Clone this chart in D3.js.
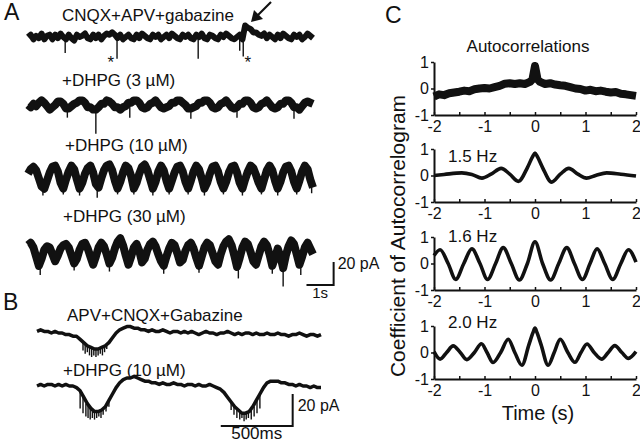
<!DOCTYPE html>
<html>
<head>
<meta charset="utf-8">
<script src="https://cdn.jsdelivr.net/npm/d3@7"></script>
<style>
body { margin: 0; background: #fff; }
svg { display: block; font-family: "Liberation Sans", Arial, sans-serif; }
</style>
</head>
<body>
<div id="chart"></div>
<script>
// ---- panel A: whole-cell current, pA, sampled every 0.1 s ----
const traceA1 = [
  0,2,-2,1,-1,3,-2,1,2,-2, 2,-1,3,0,-2,2,-1,-3,2,0, 1,3,-1,-2,2,-1,2,-2,1,3,
  2,4,2,-1,2,-2,0,2,-1,-2, 2,-1,3,1,-1,-2,2,0,2,-2, 0,2,-1,3,1,-1,-2,2,0,2,
  -1,-2,2,0,3,-1,-2,2,1,-1, -2,2,0,3,1,-1,-2,0,2,-2, 10,8,7,4,4,2,1,3,-1,2,
  0,-2,2,-1,3,1,-1,-2,2,0, 2,-2,0,3,1,-1
];
const traceA2 = [
  0,-2,1,-1,2,4,2,-1,-4,-2, 0,3,3,1,-3,-3,-1,1,2,4, 4,2,-2,-2,-4,-4,-2,1,1,4,
  3,1,-2,-2,-4,-2,-1,2,2,4, 4,2,-2,-3,-2,1,2,4,1,-2, -3,-2,-1,2,2,4,4,2,0,-3,
  -3,-2,-1,2,2,4,4,2,-2,-3, -2,1,2,4,1,-2,-3,-2,1,1, 4,4,2,-2,-3,-2,1,2,4,1,
  -2,-3,-2,1,1,4,4,2,-2,-2, -4,-1,2,3,2,1
];
const traceA3 = [
  2,6,8,5,-2,-9,-11,-4,3,8, 9,4,-6,-11,-3,4,9,6,-3,-11, -6,2,7,9,3,-7,-10,-2,5,9,
  10,5,-4,-11,-5,3,9,7,0,-11, -6,2,8,10,5,-3,-11,-5,4,9, 5,-4,-11,-4,3,8,9,4,-5,-11,
  -4,4,9,6,-2,-11,-6,2,8,9, 4,-5,-11,-5,3,8,9,3,-6,-11, -3,4,9,7,1,-6,-11,-3,5,9,
  5,-4,-11,-5,3,8,9,4,-5,-11, -4,4,9,6,-3,-10
];
const traceA4 = [
  6,8,4,-4,-12,-6,2,5,4,-2, -8,-3,3,6,7,4,-3,-10,-6,2, 7,8,3,-4,-11,-4,4,8,5,-2,
  -10,-5,3,9,12,6,-3,-11,-4,4, 7,1,-9,-6,2,7,9,5,-2,-8, -12,-4,3,8,6,-1,-9,-7,1,6,
  8,3,-5,-12,-4,4,8,6,-1,-8, -11,-2,5,9,11,6,-3,-13,-5,4, 9,7,0,-8,-11,-3,5,9,6,-2,
  -12,-5,3,-4,-14,-3,5,10,7,-2, -11,-4,4,8,3,-2
];
// fast events: [time s, lowest point pA]
const spikesA1 = [[1.37,-14],[3.28,-19],[6.27,-19],[7.8,-12],[7.93,-17]];
const spikesA2 = [[2.5,-25],[1.45,-11],[3.75,-11],[6.0,-12],[7.7,-11],[9.8,-12]];
const spikesA3 = [[0.55,-17],[1.3,-16],[1.9,-17],[2.55,-19],[3.3,-16],[3.9,-16],[4.6,-17],[5.2,-16],
  [5.9,-16],[6.5,-17],[7.2,-16],[7.9,-17],[8.6,-16],[9.2,-17],[9.9,-16],[10.45,-15]];
const spikesA4 = [[0.45,-20],[1.7,-16],[3.0,-17],[5.0,-19],[6.3,-18],[7.75,-23],[9.0,-19],[9.4,-30],[10.05,-20]];
const labelsA = ["CNQX+APV+gabazine", "+DHPG (3 \u00b5M)", "+DHPG (10 \u00b5M)", "+DHPG (30 \u00b5M)"];

// ---- panel B: pA, sampled every 0.025 s ----
const traceB1 = [
  1,2,1,1,0,1,0,0,-1,-1, -2,-2,-4,-6,-8,-9,-10,-10,-9,-8, -6,-3,0,2,3,4,4,3,3,2,
  2,1,2,1,1,2,1,0,1,1, 0,1,0,1,0,-1,0,1,0,0, -1,0,0,1,0,-1,0,-1,0,0,
  -1,0,-1,-1,0,-1,-1,0,-1,-1, -2,-1,-1,0,-1,-2,-1,-1,-2,-1
];
const traceB2 = [
  0,1,0,1,1,0,1,0,1,0, 0,-1,-3,-7,-11,-14,-16,-16,-15,-13, -9,-5,-1,2,4,5,5,6,5,4,
  3,3,2,2,1,2,1,1,2,1, 1,0,1,1,0,1,0,0,1,0, -1,-2,-4,-7,-10,-13,-15,-17,-17,-16,
  -13,-9,-5,-1,2,3,3,3,2,2, 1,1,0,1,0,0,-1,0,-1,-1
];
const spikesB1 = [[0.32,-11],[0.335,-13],[0.35,-12],[0.365,-14],[0.38,-15],[0.395,-14],[0.41,-15],
  [0.425,-14],[0.44,-13],[0.455,-14],[0.47,-12],[0.485,-10]];
const spikesB2 = [[0.3,-14],[0.32,-17],[0.34,-19],[0.355,-20],[0.37,-21],[0.385,-20],[0.4,-21],[0.415,-20],
  [0.43,-19],[0.445,-20],[0.46,-18],[0.48,-16],[0.5,-13],
  [1.35,-15],[1.37,-18],[1.39,-20],[1.41,-21],[1.425,-20],[1.44,-22],[1.455,-21],[1.47,-20],[1.49,-21],
  [1.51,-19],[1.53,-17],[1.55,-14]];
const labelsB = ["APV+CNQX+Gabazine", "+DHPG (10 \u00b5M)"];

// ---- panel C: autocorrelograms ----
const acAllT = [-2,-1.9,-1.8,-1.7,-1.6,-1.5,-1.4,-1.3,-1.2,-1.1,-1,-0.9,-0.8,-0.7,-0.6,-0.5,-0.4,-0.3,-0.2,-0.1,-0.05,
  0,0.05,0.1,0.2,0.3,0.4,0.5,0.6,0.7,0.8,0.9,1,1.1,1.2,1.3,1.4,1.5,1.6,1.7,1.8,1.9,2];
const acAllV = [-0.3,-0.22,-0.25,-0.18,-0.15,-0.12,-0.08,-0.1,-0.03,0,0.02,0,0.05,0.1,0.18,0.2,0.17,0.2,0.17,0.25,0.35,
  0.85,0.35,0.25,0.17,0.2,0.15,0.12,0.1,0.05,0,-0.02,-0.08,-0.05,-0.1,-0.08,-0.12,-0.15,-0.13,-0.2,-0.22,-0.25,-0.28];
const ac15T = [-2,-1.8,-1.45,-1.25,-1.05,-0.87,-0.67,-0.5,-0.33,-0.15,-0.05,0,0.05,0.15,0.33,0.5,0.67,0.85,1.02,1.2,1.42,1.7,2];
const ac15V = [0,0.04,0.1,0.04,-0.1,0.05,0.27,0.05,-0.22,0.3,0.7,0.85,0.7,0.3,-0.25,0.05,0.27,0.05,-0.1,0,0.1,0.05,-0.02];
const ac16T = [-2,-1.88,-1.72,-1.57,-1.41,-1.25,-1.09,-0.94,-0.78,-0.63,-0.47,-0.31,-0.15,0,0.15,0.31,0.47,0.63,0.78,0.94,
  1.09,1.23,1.38,1.54,1.7,1.85,2];
const ac16V = [0.3,0.52,0,-0.6,0,0.55,0,-0.6,0,0.6,0,-0.62,0,0.82,0,-0.62,0,0.6,0,-0.6,0,0.55,0,-0.6,0,0.52,0.05];
const ac20T = [-2,-1.88,-1.75,-1.62,-1.48,-1.35,-1.2,-1.06,-0.95,-0.83,-0.68,-0.53,-0.4,-0.26,-0.12,-0.04,0,0.04,0.12,
  0.26,0.38,0.5,0.65,0.79,0.91,1.03,1.17,1.32,1.45,1.58,1.72,1.85,2];
const ac20V = [0.03,-0.25,0,0.25,0,-0.27,0,0.33,0,-0.38,0,0.5,0,-0.48,0.3,0.75,0.92,0.75,0.3,-0.48,0,0.5,0,-0.37,0,0.32,
  0,-0.25,0,0.26,0,-0.22,0.03];
const acLabels = ["", "1.5 Hz", "1.6 Hz", "2.0 Hz"];
const lagTicks = [-2, -1.5, -1, -0.5, 0, 0.5, 1, 1.5, 2];
const coefTicks = [-1, 0, 1];

const INK = "#111";
const width = 640;
const height = 442;

const svg = d3.select("#chart")
    .append("svg")
    .attr("width", width)
    .attr("height", height);

function drawTrace(g, values, dt, x, y, w) {
    const line = d3.line()
        .x((d, i) => x(i * dt))
        .y(d => y(d));
    g.append("path")
        .datum(values)
        .attr("d", line)
        .attr("fill", "none")
        .attr("stroke", INK)
        .attr("stroke-width", w)
        .attr("stroke-linejoin", "round");
}

function drawSpikes(g, spikes, values, dt, x, y) {
    g.selectAll("line.spike")
        .data(spikes)
        .enter().append("line")
        .attr("class", "spike")
        .attr("x1", d => x(d[0]))
        .attr("x2", d => x(d[0]))
        .attr("y1", d => y(values[Math.round(d[0] / dt)]))
        .attr("y2", d => y(d[1]))
        .attr("stroke", INK)
        .attr("stroke-width", 1.4);
}

function addText(x, y, txt, size, anchor) {
    return svg.append("text")
        .attr("x", x)
        .attr("y", y)
        .attr("fill", INK)
        .style("font-size", size + "px")
        .attr("text-anchor", anchor || "start")
        .text(txt);
}

// panel letters
addText(4, 20, "A", 23);
addText(3, 310, "B", 23);
addText(385, 23, "C", 23);

// ---- panel A ----
const xA = d3.scaleLinear().domain([0, 10.5]).range([28, 313]);
const pxPerPA_A = 1.15;
const rowsA = [
    { values: traceA1, spikes: spikesA1, mid: 37, w: 6, lx: 62, ly: 21 },
    { values: traceA2, spikes: spikesA2, mid: 105, w: 8, lx: 62, ly: 86 },
    { values: traceA3, spikes: spikesA3, mid: 176, w: 8, lx: 65, ly: 151 },
    { values: traceA4, spikes: spikesA4, mid: 252, w: 8, lx: 63, ly: 222 }
];
rowsA.forEach((r, i) => {
    const y = d3.scaleLinear().domain([-1, 1]).range([r.mid + pxPerPA_A, r.mid - pxPerPA_A]);
    const g = svg.append("g").attr("class", "traceA");
    drawTrace(g, r.values, 0.1, xA, y, r.w);
    drawSpikes(g, r.spikes, r.values, 0.1, xA, y);
    addText(r.lx, r.ly, labelsA[i], 17);
});

// asterisks + arrow on the first trace
addText(xA(3.05), 68, "*", 17, "middle");
addText(xA(8.1), 68, "*", 17, "middle");
svg.append("line")
    .attr("x1", 271).attr("y1", 2)
    .attr("x2", 258).attr("y2", 15)
    .attr("stroke", INK).attr("stroke-width", 2.2);
svg.append("path")
    .attr("d", "M251,22 L254,10 L263,19 Z")
    .attr("fill", INK);

// scale bar A: 1 s, 20 pA
const yBarA = d3.scaleLinear().domain([0, 20]).range([285, 285 - 20 * pxPerPA_A]);
svg.append("path")
    .attr("d", `M${xA(10.26)},${yBarA(0)} H${xA(11.26)} V${yBarA(20)}`)
    .attr("fill", "none").attr("stroke", INK).attr("stroke-width", 2);
addText(xA(10.76), 298, "1s", 15, "middle");
addText(xA(11.26) + 4, 269, "20 pA", 16);

// ---- panel B ----
const xB = d3.scaleLinear().domain([0, 1.975]).range([37, 321]);
const pxPerPA_B = 1.6;
const rowsB = [
    { values: traceB1, spikes: spikesB1, mid: 333, lx: 67, ly: 321 },
    { values: traceB2, spikes: spikesB2, mid: 386, lx: 63, ly: 376 }
];
rowsB.forEach((r, i) => {
    const y = d3.scaleLinear().domain([-1, 1]).range([r.mid + pxPerPA_B, r.mid - pxPerPA_B]);
    const g = svg.append("g").attr("class", "traceB");
    drawTrace(g, r.values, 0.025, xB, y, 3.5);
    drawSpikes(g, r.spikes, r.values, 0.025, xB, y);
    addText(r.lx, r.ly, labelsB[i], 17);
});
const yBarB = d3.scaleLinear().domain([0, 20]).range([426, 426 - 20 * pxPerPA_B]);
svg.append("path")
    .attr("d", `M${xB(1.278)},${yBarB(0)} H${xB(1.778)} V${yBarB(20)}`)
    .attr("fill", "none").attr("stroke", INK).attr("stroke-width", 2);
addText(xB(1.528), 439, "500ms", 17, "middle");
addText(xB(1.778) + 5, 411, "20 pA", 16);

// ---- panel C ----
const xC = d3.scaleLinear().domain([-2, 2]).range([434, 636]);
const plotsC = [
    { t: acAllT, v: acAllV, top: 62, w: 8, curve: d3.curveLinear, ly: 0 },
    { t: ac15T, v: ac15V, top: 149, w: 3.6, curve: d3.curveMonotoneX, ly: 13 },
    { t: ac16T, v: ac16V, top: 237, w: 3.6, curve: d3.curveMonotoneX, ly: 5 },
    { t: ac20T, v: ac20V, top: 326, w: 3.6, curve: d3.curveMonotoneX, ly: 2 }
];
const plotH = 53;

plotsC.forEach((p, i) => {
    const y = d3.scaleLinear().domain([-1, 1]).range([p.top + plotH, p.top]);
    const g = svg.append("g").attr("class", "acPlot");

    const xAxis = g.append("g")
        .attr("transform", `translate(0,${p.top + plotH})`)
        .call(d3.axisBottom(xC)
            .tickValues(lagTicks)
            .tickSizeInner(-3)
            .tickSizeOuter(0)
            .tickPadding(6)
            .tickFormat(d => Number.isInteger(d) ? String(d) : ""));
    const yAxis = g.append("g")
        .attr("transform", `translate(${xC(-2)},0)`)
        .call(d3.axisLeft(y)
            .tickValues(coefTicks)
            .tickSize(3)
            .tickSizeOuter(0)
            .tickPadding(2)
            .tickFormat(d => String(d)));
    [xAxis, yAxis].forEach(a => {
        a.select(".domain").attr("stroke", INK).attr("stroke-width", 2);
        a.selectAll(".tick line").attr("stroke", INK).attr("stroke-width", 1.5);
        a.selectAll(".tick text")
            .attr("fill", INK)
            .style("font-size", "16px")
            .style("font-family", "'Liberation Sans', Arial, sans-serif");
    });

    const line = d3.line()
        .x((d, k) => xC(p.t[k]))
        .y(d => y(d))
        .curve(p.curve);
    g.append("path")
        .datum(p.v)
        .attr("d", line)
        .attr("fill", "none")
        .attr("stroke", INK)
        .attr("stroke-width", p.w)
        .attr("stroke-linejoin", "round");

    if (acLabels[i]) addText(448, p.top + p.ly, acLabels[i], 17);
});

addText(528, 52, "Autocorrelations", 17, "middle");
addText(538, 420, "Time (s)", 20, "middle");
svg.append("text")
    .attr("transform", "translate(405,236) rotate(-90)")
    .attr("text-anchor", "middle")
    .attr("fill", INK)
    .style("font-size", "21px")
    .text("Coefficient of Autocorrelogram");
</script>
</body>
</html>
